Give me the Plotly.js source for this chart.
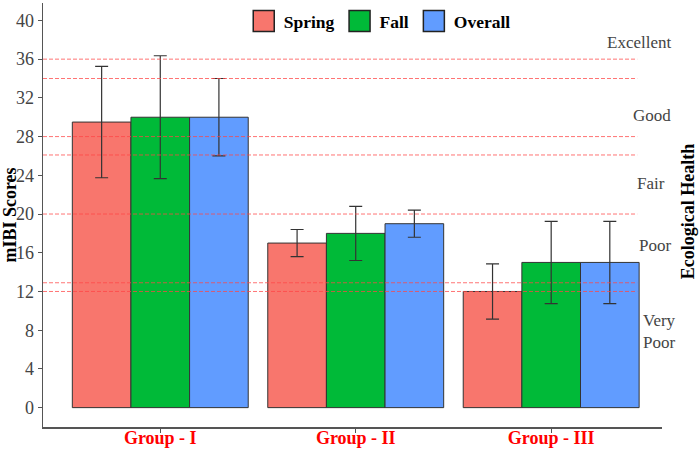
<!DOCTYPE html>
<html>
<head>
<meta charset="utf-8">
<script src="https://cdn.plot.ly/plotly-3.0.1.min.js"></script>
<style>html,body{margin:0;padding:0;background:#fff;}</style>
</head>
<body>
<div id="chart" style="width:699px;height:450px;"></div>
<script>
const groups = ["Group - I", "Group - II", "Group - III"];
const seriesNames = ["Spring", "Fall", "Overall"];
const seriesColors = ["#F8766D", "#00BA38", "#619CFF"];
const springValues = [29.5, 17, 12];
const fallValues = [30, 18, 15];
const overallValues = [30, 19, 15];
const springErrors = [5.75, 1.4, 2.85];
const fallErrors = [6.35, 2.8, 4.25];
const overallErrors = [4.0, 1.4, 4.25];
const thresholdLines = [36, 34, 28, 26.1, 20, 12.9, 12];
const healthLabels = ["Excellent", "Good", "Fair", "Poor", "Very<br>Poor"];
const healthLabelY = [37.7, 30.2, 23.2, 16.7, 7.9];
const yTicks = [0, 4, 8, 12, 16, 20, 24, 28, 32, 36, 40];

// label right-edge positions (paper fraction), layout only
const healthLabelRight = [1.018, 1.018, 1.008, 1.018, 1.026];

const values = [springValues, fallValues, overallValues];
const errors = [springErrors, fallErrors, overallErrors];
const FONT = "Liberation Serif";

const traces = seriesNames.map((name, i) => ({
  type: "bar",
  name: name,
  x: groups,
  y: values[i],
  marker: {color: seriesColors[i], line: {color: "#333333", width: 1}},
  error_y: {type: "data", array: errors[i], visible: true, color: "#333333", thickness: 1.2, width: 6.5},
  cliponaxis: false
}));

const shapes = thresholdLines.map(v => ({
  type: "line", xref: "x", yref: "y",
  x0: -0.6, x1: 2.44, y0: v, y1: v,
  line: {color: "rgba(255,70,70,0.75)", width: 1, dash: "4px,2px"},
  layer: "above"
}));

const annotations = healthLabels.map((t, i) => ({
  text: t, xref: "paper", yref: "y", x: healthLabelRight[i], y: healthLabelY[i],
  xanchor: "right", yanchor: "middle", align: "left", showarrow: false,
  font: {family: FONT, size: 17, color: "#444444"}
}));
annotations.push({
  text: "<b>Ecological Health</b>", xref: "paper", yref: "paper",
  x: 1.042, y: 0.509, xanchor: "center", yanchor: "middle",
  textangle: -90, showarrow: false,
  font: {family: FONT, size: 18, color: "#000000"}
});

const layout = {
  width: 699, height: 450,
  font: {family: FONT},
  margin: {l: 43, r: 37, t: 3, b: 23, pad: 0},
  paper_bgcolor: "#ffffff", plot_bgcolor: "#ffffff",
  barmode: "group", bargap: 0.1, bargroupgap: 0,
  showlegend: true,
  legend: {orientation: "h", x: 0.544, xanchor: "center", y: 1.0, yanchor: "top",
           font: {family: FONT, size: 17.5, color: "#000000", weight: "bold"}, bgcolor: "rgba(0,0,0,0)"},
  xaxis: {
    range: [-0.6, 2.567], showgrid: false, zeroline: false,
    showline: true, linecolor: "#555555", linewidth: 1.5,
    ticks: "outside", ticklen: 4, tickcolor: "#555555",
    ticklabelstandoff: -10,
    tickfont: {family: FONT, size: 18, color: "#ff0000", weight: "bold"},
    fixedrange: true
  },
  yaxis: {
    range: [-2.0, 41.8], showgrid: false, zeroline: false,
    showline: true, linecolor: "#555555", linewidth: 1.5,
    ticks: "outside", ticklen: 4, tickcolor: "#555555",
    tickvals: yTicks,
    tickfont: {family: FONT, size: 18, color: "#444444"},
    title: {text: "<b>mIBI Scores</b>", font: {family: FONT, size: 18, color: "#000000"}, standoff: 4},
    fixedrange: true
  },
  shapes: shapes,
  annotations: annotations
};

Plotly.newPlot("chart", traces, layout, {displayModeBar: false, staticPlot: true}).then(gd => {
  gd.querySelectorAll(".legend .legendpoints path").forEach(p => {
    p.setAttribute("d", "M10.5,10.5H-10.5V-10.5H10.5Z");
    p.style.strokeWidth = "1.5px";
    p.style.stroke = "#222";
  });
});
</script>
</body>
</html>
